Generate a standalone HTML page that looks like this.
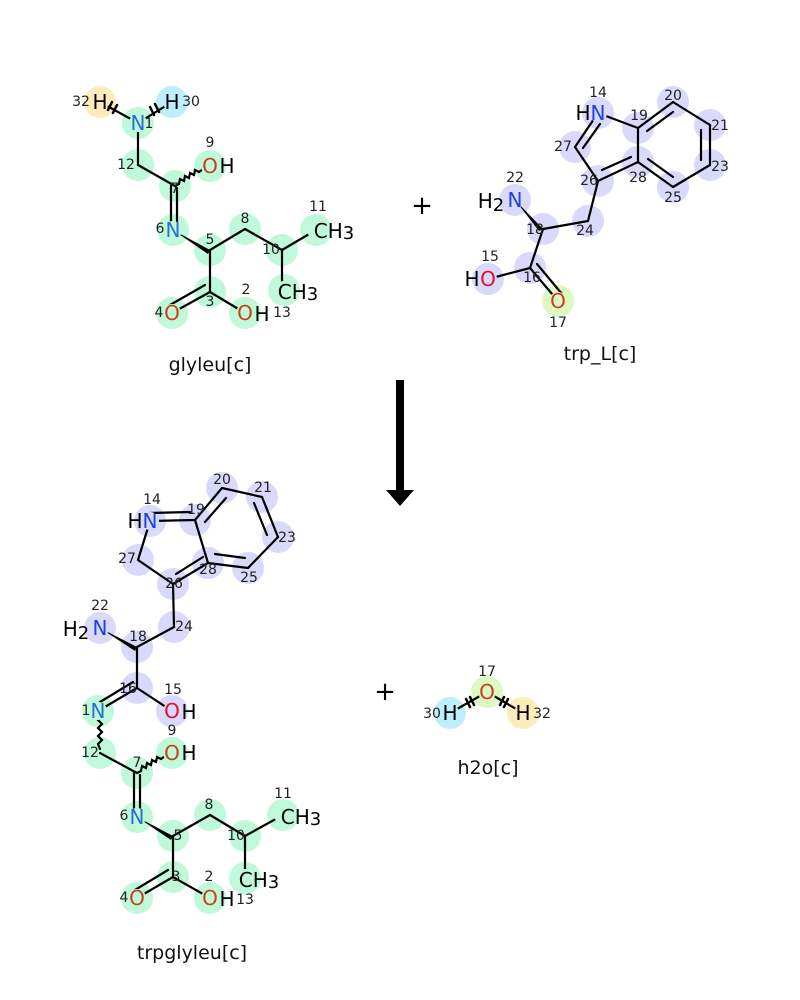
<!DOCTYPE html>
<html><head><meta charset="utf-8"><style>body{margin:0;background:#fff}svg{display:block}</style></head><body>
<svg width="800" height="1000" viewBox="0 0 800 1000" xmlns="http://www.w3.org/2000/svg" font-family="DejaVu Sans, Liberation Sans, sans-serif">
<g fill="#bff9d9">
<circle cx="138" cy="123" r="16"/><circle cx="138" cy="165" r="16"/><circle cx="175" cy="186" r="16"/><circle cx="210" cy="166" r="16"/><circle cx="173" cy="230" r="16"/><circle cx="210" cy="250" r="16"/><circle cx="245" cy="229" r="16"/><circle cx="282" cy="250" r="16"/><circle cx="316" cy="230" r="16"/><circle cx="284" cy="290" r="16"/><circle cx="210" cy="292" r="16"/><circle cx="172" cy="313" r="16"/><circle cx="245" cy="313" r="16"/>
<circle cx="98" cy="711" r="16"/><circle cx="100" cy="753" r="16"/><circle cx="137" cy="773" r="16"/><circle cx="172" cy="753" r="16"/><circle cx="137" cy="817" r="16"/><circle cx="173" cy="836" r="16"/><circle cx="210" cy="815" r="16"/><circle cx="245" cy="836" r="16"/><circle cx="283" cy="815" r="16"/><circle cx="245" cy="878" r="16"/><circle cx="173" cy="877" r="16"/><circle cx="137" cy="898" r="16"/><circle cx="210" cy="898" r="16"/>
</g>
<circle cx="100" cy="102" r="16" fill="#fcecbc"/><circle cx="172" cy="102" r="16" fill="#bdeefb"/>
<circle cx="523" cy="713" r="16" fill="#fcecbc"/><circle cx="450" cy="713" r="16" fill="#bdeefb"/><circle cx="487" cy="692" r="16" fill="#dcf9c2"/>
<circle cx="558" cy="301" r="16" fill="#dcf9c2"/>
<g fill="#d9d9fb">
<circle cx="598" cy="113" r="16"/><circle cx="638" cy="128" r="16"/><circle cx="673" cy="102" r="16"/><circle cx="710" cy="125" r="16"/><circle cx="710" cy="165" r="16"/><circle cx="673" cy="187" r="16"/><circle cx="638" cy="162" r="16"/><circle cx="575" cy="147" r="16"/><circle cx="598" cy="181" r="16"/><circle cx="588" cy="221" r="16"/><circle cx="543" cy="229" r="16"/><circle cx="515" cy="200" r="16"/><circle cx="530" cy="268" r="16"/><circle cx="488" cy="279" r="16"/>
<circle cx="150" cy="521" r="16"/><circle cx="195" cy="520" r="16"/><circle cx="222" cy="488" r="16"/><circle cx="262" cy="497" r="16"/><circle cx="278" cy="537" r="16"/><circle cx="248" cy="568" r="16"/><circle cx="208" cy="563" r="16"/><circle cx="138" cy="560" r="16"/><circle cx="173" cy="584" r="16"/><circle cx="174" cy="627" r="16"/><circle cx="137" cy="647" r="16"/><circle cx="100" cy="628" r="16"/><circle cx="137" cy="688" r="16"/><circle cx="172" cy="711" r="16"/>
</g>
<g stroke="#000" stroke-width="2.2" fill="none" stroke-linecap="round">
<line x1="138" y1="123" x2="138" y2="165"/><line x1="138" y1="165" x2="175" y2="186"/>
<path d="M175 186 l4 -2 l1 -5 l4 2 l1 -5 l4 2 l1 -5 l4 2 l1 -5 l4 2 l4 -3"/>
<line x1="171" y1="186" x2="171" y2="230"/><line x1="177" y1="188" x2="177" y2="230"/>
<line x1="210" y1="250" x2="245" y2="229"/><line x1="245" y1="229" x2="282" y2="250"/><line x1="282" y1="250" x2="316" y2="230"/><line x1="282" y1="250" x2="282" y2="290"/>
<line x1="210" y1="250" x2="210" y2="292"/><line x1="210" y1="292" x2="245" y2="313"/>
<line x1="210" y1="292" x2="172" y2="313"/><line x1="205" y1="285" x2="170" y2="305"/>
<line x1="100" y1="102" x2="138" y2="123"/><line x1="172" y1="102" x2="138" y2="123"/>
<line x1="112" y1="102" x2="108" y2="110" stroke-width="2.5"/><line x1="117" y1="105" x2="113" y2="113" stroke-width="2.5"/>
<line x1="155" y1="104" x2="159" y2="112" stroke-width="2.5"/><line x1="150" y1="107" x2="154" y2="115" stroke-width="2.5"/>
<line x1="598" y1="113" x2="638" y2="128"/><line x1="598" y1="113" x2="575" y2="147"/><line x1="600" y1="124" x2="583" y2="148"/>
<line x1="575" y1="147" x2="598" y2="181"/><line x1="598" y1="181" x2="638" y2="162"/><line x1="602" y1="170" x2="631" y2="157"/>
<line x1="638" y1="162" x2="638" y2="128"/><line x1="638" y1="128" x2="673" y2="102"/><line x1="647" y1="131" x2="673" y2="112"/>
<line x1="673" y1="102" x2="710" y2="125"/><line x1="710" y1="125" x2="710" y2="165"/><line x1="701" y1="130" x2="701" y2="160"/>
<line x1="710" y1="165" x2="673" y2="187"/><line x1="673" y1="187" x2="638" y2="162"/><line x1="673" y1="177" x2="648" y2="159"/>
<line x1="598" y1="181" x2="588" y2="221"/><line x1="588" y1="221" x2="543" y2="229"/><line x1="543" y1="229" x2="530" y2="268"/><line x1="530" y1="268" x2="488" y2="279"/>
<line x1="530" y1="268" x2="558" y2="301"/><line x1="537" y1="264" x2="562" y2="294"/>
<line x1="150" y1="521" x2="195" y2="520"/><line x1="150" y1="513" x2="190" y2="512"/>
<line x1="150" y1="521" x2="138" y2="560"/><line x1="138" y1="560" x2="173" y2="584"/><line x1="173" y1="584" x2="208" y2="563"/><line x1="176" y1="574" x2="203" y2="557"/>
<line x1="208" y1="563" x2="195" y2="520"/><line x1="195" y1="520" x2="222" y2="488"/><line x1="205" y1="522" x2="226" y2="498"/>
<line x1="222" y1="488" x2="262" y2="497"/><line x1="262" y1="497" x2="278" y2="537"/><line x1="254" y1="503" x2="267" y2="535"/>
<line x1="278" y1="537" x2="248" y2="568"/><line x1="248" y1="568" x2="208" y2="563"/><line x1="245" y1="558" x2="215" y2="554"/>
<line x1="173" y1="584" x2="174" y2="627"/><line x1="174" y1="627" x2="137" y2="647"/><line x1="137" y1="647" x2="137" y2="688"/><line x1="137" y1="688" x2="172" y2="711"/>
<line x1="137" y1="688" x2="98" y2="711"/><line x1="133" y1="682" x2="100" y2="702"/>
<path d="M98 711 l4 5 l-4 4 l4 4 l-4 4 l4 4 l-4 4 l4 4 l-4 4 l2 5"/>
<line x1="100" y1="753" x2="137" y2="773"/>
<path d="M137 773 l4 -2 l1 -5 l4 2 l1 -5 l4 2 l1 -5 l4 2 l1 -5 l4 2 l4 -3"/>
<line x1="134" y1="773" x2="134" y2="817"/><line x1="140" y1="775" x2="140" y2="817"/>
<line x1="173" y1="836" x2="210" y2="815"/><line x1="210" y1="815" x2="245" y2="836"/><line x1="245" y1="836" x2="283" y2="815"/><line x1="245" y1="836" x2="245" y2="878"/>
<line x1="173" y1="877" x2="173" y2="836"/><line x1="173" y1="877" x2="210" y2="898"/>
<line x1="173" y1="877" x2="137" y2="898"/><line x1="168" y1="870" x2="135" y2="890"/>
<line x1="450" y1="713" x2="487" y2="692"/><line x1="523" y1="713" x2="487" y2="692"/>
<line x1="466" y1="699" x2="470" y2="707" stroke-width="2.5"/><line x1="470" y1="697" x2="474" y2="705" stroke-width="2.5"/>
<line x1="504" y1="697" x2="500" y2="705" stroke-width="2.5"/><line x1="508" y1="699" x2="504" y2="707" stroke-width="2.5"/>
</g>
<polygon points="173,230 210,250 208,254" fill="#000"/>
<polygon points="515,200 543,229 539,231" fill="#000"/>
<polygon points="100,628 137,647 135,651" fill="#000"/>
<polygon points="137,817 173,836 171,840" fill="#000"/>
<g fill="#bff9d9"><circle cx="138" cy="123" r="9"/><circle cx="210" cy="166" r="9"/><circle cx="173" cy="230" r="9"/><circle cx="316" cy="230" r="9"/><circle cx="284" cy="290" r="9"/><circle cx="172" cy="313" r="9"/><circle cx="245" cy="313" r="9"/>
<circle cx="98" cy="711" r="9"/><circle cx="172" cy="753" r="9"/><circle cx="137" cy="817" r="9"/><circle cx="283" cy="815" r="9"/><circle cx="245" cy="878" r="9"/><circle cx="137" cy="898" r="9"/><circle cx="210" cy="898" r="9"/></g>
<circle cx="100" cy="102" r="9" fill="#fcecbc"/><circle cx="172" cy="102" r="9" fill="#bdeefb"/><circle cx="523" cy="713" r="9" fill="#fcecbc"/><circle cx="450" cy="713" r="9" fill="#bdeefb"/><circle cx="487" cy="692" r="9" fill="#dcf9c2"/><circle cx="558" cy="301" r="9" fill="#dcf9c2"/>
<g fill="#d9d9fb"><circle cx="598" cy="113" r="9"/><circle cx="515" cy="200" r="9"/><circle cx="488" cy="279" r="9"/><circle cx="150" cy="521" r="9"/><circle cx="100" cy="628" r="9"/><circle cx="172" cy="711" r="9"/></g>
<g font-size="20" text-anchor="middle" dominant-baseline="central">
<text x="100" y="102">H</text><text x="172" y="102">H</text>
<text x="138" y="123" fill="#2a6fd6">N</text>
<text x="210" y="166" fill="#c8401e">O</text><text x="227" y="166">H</text>
<text x="173" y="230" fill="#2a6fd6">N</text>
<text x="334" y="231">CH<tspan font-size="18" dy="2">3</tspan></text>
<text x="298" y="292">CH<tspan font-size="18" dy="2">3</tspan></text>
<text x="172" y="313" fill="#c8401e">O</text>
<text x="245" y="313" fill="#c8401e">O</text><text x="262" y="314">H</text>
<text x="598" y="113" fill="#2040e0">N</text><text x="583" y="113">H</text>
<text x="515" y="200" fill="#2040e0">N</text><text x="491" y="201">H<tspan font-size="18" dy="4">2</tspan></text>
<text x="488" y="279" fill="#e0102e">O</text><text x="472" y="279">H</text>
<text x="558" y="301" fill="#c8401e">O</text>
<text x="150" y="521" fill="#2040e0">N</text><text x="135" y="521">H</text>
<text x="100" y="628" fill="#2040e0">N</text><text x="76" y="629">H<tspan font-size="18" dy="4">2</tspan></text>
<text x="172" y="711" fill="#e0102e">O</text><text x="189" y="712">H</text>
<text x="98" y="711" fill="#2a6fd6">N</text>
<text x="172" y="753" fill="#c8401e">O</text><text x="189" y="753">H</text>
<text x="137" y="817" fill="#2a6fd6">N</text>
<text x="301" y="817">CH<tspan font-size="18" dy="2">3</tspan></text>
<text x="259" y="880">CH<tspan font-size="18" dy="2">3</tspan></text>
<text x="137" y="898" fill="#c8401e">O</text>
<text x="210" y="898" fill="#c8401e">O</text><text x="227" y="899">H</text>
<text x="487" y="692" fill="#c8401e">O</text><text x="450" y="713">H</text><text x="523" y="713">H</text>
</g>
<g font-size="14" text-anchor="middle" dominant-baseline="central" fill="#222">
<text x="81" y="102">32</text><text x="191" y="102">30</text><text x="149" y="124">1</text><text x="126" y="165">12</text><text x="175" y="189">7</text><text x="210" y="143">9</text><text x="160" y="229">6</text><text x="210" y="240">5</text><text x="245" y="219">8</text><text x="271" y="250">10</text><text x="318" y="207">11</text><text x="282" y="313">13</text><text x="210" y="302">3</text><text x="159" y="313">4</text><text x="246" y="290">2</text>
<text x="598" y="93">14</text><text x="639" y="116">19</text><text x="673" y="96">20</text><text x="720" y="126">21</text><text x="720" y="167">23</text><text x="673" y="198">25</text><text x="638" y="178">28</text><text x="563" y="147">27</text><text x="589" y="181">26</text><text x="585" y="231">24</text><text x="535" y="230">18</text><text x="515" y="178">22</text><text x="532" y="278">16</text><text x="490" y="257">15</text><text x="558" y="323">17</text>
<text x="152" y="500">14</text><text x="196" y="510">19</text><text x="222" y="480">20</text><text x="263" y="488">21</text><text x="287" y="538">23</text><text x="249" y="578">25</text><text x="208" y="570">28</text><text x="127" y="559">27</text><text x="174" y="584">26</text><text x="184" y="627">24</text><text x="138" y="637">18</text><text x="100" y="606">22</text><text x="128" y="689">16</text><text x="173" y="690">15</text><text x="86" y="711">1</text><text x="90" y="753">12</text><text x="137" y="763">7</text><text x="172" y="731">9</text><text x="124" y="816">6</text><text x="178" y="836">5</text><text x="209" y="805">8</text><text x="236" y="836">10</text><text x="283" y="794">11</text><text x="245" y="900">13</text><text x="176" y="877">3</text><text x="124" y="898">4</text><text x="209" y="877">2</text>
<text x="487" y="672">17</text><text x="432" y="714">30</text><text x="542" y="714">32</text>
</g>
<g font-size="26" text-anchor="middle" dominant-baseline="central"><text x="422" y="206">+</text><text x="385" y="692">+</text></g>
<rect x="396" y="380" width="8" height="112" fill="#000"/>
<polygon points="386,490 414,490 400,506" fill="#000"/>
<g font-size="19" text-anchor="middle" dominant-baseline="central" fill="#111">
<text x="210" y="365">glyleu[c]</text><text x="600" y="354">trp_L[c]</text><text x="192" y="953">trpglyleu[c]</text><text x="488" y="768">h2o[c]</text>
</g>
</svg>
</body></html>
